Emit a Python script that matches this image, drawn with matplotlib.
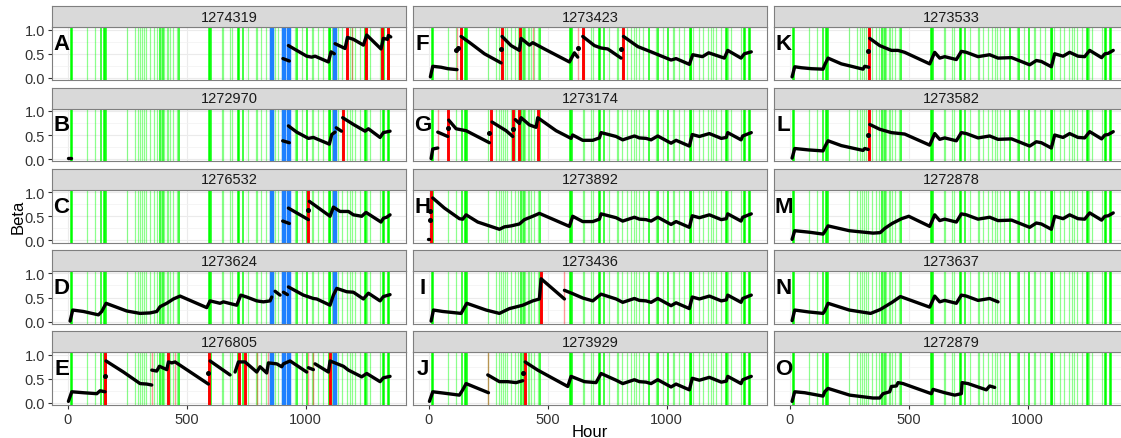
import matplotlib
matplotlib.use("Agg")
import matplotlib.pyplot as plt
import numpy as np

plt.rcParams['font.family'] = ['Liberation Sans', 'DejaVu Sans']

# identifiants des patients, par colonne (gauche, milieu, droite)
panel_ids = ["1274319", "1272970", "1276532", "1273624", "1276805",
             "1273423", "1273174", "1273892", "1273436", "1273929",
             "1273533", "1273582", "1272878", "1273637", "1272879"]
letters = list("ABCDEFGHIJKLMNO")

# evenements communs (heures)
green_thick = [12, 154, 594, 717, 1098, 1249, 1326, 1347]
green_mid = [138, 160, 388, 402, 469, 601, 738, 924, 962, 1004, 1102]
green_thin = [82, 115, 250, 283, 297, 304, 313, 321, 330, 346, 364, 374, 392, 405, 416, 423,
              430, 444, 458, 647, 654, 682, 689, 759, 790, 794, 811, 833, 850, 864, 870, 885,
              899, 955, 983, 1025, 1032, 1053, 1074, 1109, 1137, 1151, 1172, 1186, 1193, 1207,
              1228, 1256, 1270, 1312]
blue_left = [857, 908, 930, 1124]

red_thick = {"A": [1174, 1252, 1319, 1347], "B": [1155], "C": [1011],
             "E": [157, 423, 595, 720, 745, 1102],
             "F": [136, 307, 385, 647, 815], "G": [80, 262, 353, 381, 458],
             "H": [10], "I": [472], "J": [405], "K": [332], "L": [332]}
red_thin = {"A": [1194], "E": [356, 451, 797, 840, 1011, 1032],
            "F": [119, 437, 626], "G": [38], "I": [570], "J": [248]}

# fins communes des courbes
tail_mid_h = [647, 689, 717, 724, 787, 815, 864, 885, 913, 934, 962, 1018, 1039,
              1095, 1107, 1137, 1179, 1229, 1250, 1256, 1312, 1319, 1355]
tail_mid_b = [0.39, 0.39, 0.44, 0.55, 0.47, 0.40, 0.48, 0.44, 0.43, 0.40, 0.48, 0.33, 0.39,
              0.27, 0.51, 0.47, 0.53, 0.43, 0.45, 0.55, 0.40, 0.48, 0.55]
tail_right_h = [609, 630, 651, 700, 721, 742, 791, 840, 875, 932, 1008, 1036, 1057,
                1099, 1113, 1148, 1176, 1211, 1239, 1260, 1310, 1324, 1338, 1359]
tail_right_b = [0.53, 0.41, 0.44, 0.38, 0.55, 0.53, 0.44, 0.48, 0.41, 0.42, 0.27, 0.36, 0.34,
                0.23, 0.50, 0.45, 0.53, 0.45, 0.44, 0.57, 0.42, 0.50, 0.51, 0.57]

A_h = [904, 931, None, 927, 1004, 1025, 1039, 1095, 1106, 1120, None, 1123, 1165, 1175,
       1200, 1214, 1242, 1256, 1316, 1326, 1343, 1347, 1357]
A_b = [0.40, 0.35, None, 0.67, 0.45, 0.43, 0.45, 0.33, 0.54, 0.50, None, 0.71, 0.61, 0.84,
       0.80, 0.76, 0.68, 0.89, 0.60, 0.82, 0.80, 0.88, 0.85]
B_h = [0, 12, None, 903, 931, None, 927, 962, 1011, 1032, 1046, 1099, 1109, 1123, None,
       1128, 1150, None, 1155, 1200, 1249, 1263, 1312, 1326, 1354]
B_b = [0.02, 0.02, None, 0.38, 0.34, None, 0.69, 0.56, 0.43, 0.45, 0.42, 0.31, 0.51, 0.56, None,
       0.65, 0.58, None, 0.86, 0.72, 0.58, 0.63, 0.45, 0.55, 0.58]
C_h = [903, 931, None, 927, 1011, None, 1011, None, 1015, 1102, 1116, 1144, 1179, 1200,
       1235, 1253, 1316, 1326, 1340, 1354]
C_b = [0.40, 0.35, None, 0.67, 0.43, None, 0.62, None, 0.81, 0.50, 0.69, 0.60, 0.60, 0.53,
       0.50, 0.58, 0.38, 0.46, 0.48, 0.53]
D_h = [10, 21, 66, 129, 143, 161, 248, 304, 346, 374, 388, 416, 444, 472, 584, 598, 640, 654,
       710, 727, 752, 794, 822, 850, 857, None, 871, 892, None, 906, 923, None, 927, 990, 1032,
       1046, 1102, 1116, 1130, 1172, 1200, 1242, 1263, 1312, 1326, 1354]
D_b = [0.01, 0.24, 0.21, 0.14, 0.21, 0.38, 0.22, 0.17, 0.18, 0.21, 0.31, 0.38, 0.47, 0.53, 0.29,
       0.43, 0.38, 0.41, 0.34, 0.55, 0.51, 0.43, 0.41, 0.43, 0.51, None, 0.63, 0.55, None, 0.61,
       0.56, None, 0.72, 0.55, 0.48, 0.47, 0.34, 0.55, 0.69, 0.62, 0.61, 0.47, 0.59, 0.43, 0.52, 0.56]
E_h = [3, 17, 66, 122, 136, 157, None, 157, None, 161, 234, 304, 332, 353, None, 353, 374, 385,
       416, 423, 437, 451, 591, None, 591, None, 598, 682, None, 703, 717, 745, 794, 808, 836,
       843, 878, 899, 906, 934, 1004, None, 1011, 1032, None, 1039, 1095, 1102, 1158, 1179,
       1235, 1256, 1312, 1326, 1354]
E_b = [0.03, 0.23, 0.21, 0.19, 0.25, 0.23, None, 0.56, None, 0.87, 0.64, 0.40, 0.39, 0.37, None,
       0.68, 0.66, 0.76, 0.69, 0.85, 0.83, 0.85, 0.39, None, 0.61, None, 0.87, 0.58, None, 0.64,
       0.85, 0.85, 0.64, 0.75, 0.62, 0.83, 0.81, 0.75, 0.81, 0.87, 0.64, None, 0.73, 0.69, None,
       0.81, 0.64, 0.87, 0.76, 0.68, 0.54, 0.61, 0.44, 0.52, 0.55]
F_h = [7, 17, 52, 80, 119, None, 115, None, 125, None, 136, 178, 234, 304, None, 304, None, 308,
       346, 381, 388, 423, 437, 486, 591, 612, 626, None, 626, None, 647, 696, 724, 752, 808,
       None, 808, None, 818, 878, 934, 1018, 1039, 1095, 1109, 1150, 1176, 1242, 1256, 1312,
       1326, 1355]
F_b = [0.02, 0.24, 0.22, 0.19, 0.17, None, 0.57, None, 0.62, None, 0.86, 0.71, 0.50, 0.31, None,
       0.60, None, 0.86, 0.67, 0.57, 0.82, 0.68, 0.73, 0.60, 0.33, 0.52, 0.43, None, 0.63, None,
       0.86, 0.67, 0.62, 0.60, 0.41, None, 0.60, None, 0.86, 0.65, 0.54, 0.37, 0.40, 0.28, 0.48,
       0.44, 0.52, 0.41, 0.57, 0.41, 0.50, 0.54]
G_h = [10, 17, 38, None, 38, 80, None, 80, None, 84, 115, 136, 157, 255, None, 255, None, 266,
       325, 353, None, 353, None, 364, 381, 388, 423, 451, 458, 535, 598, 605]
G_b = [0.01, 0.21, 0.23, None, 0.56, 0.47, None, 0.65, None, 0.81, 0.63, 0.61, 0.59, 0.34, None,
       0.55, None, 0.77, 0.59, 0.47, None, 0.62, None, 0.82, 0.74, 0.86, 0.71, 0.66, 0.86, 0.59,
       0.43, 0.50]
H_h = [-5, 2, None, 7, None, 7, None, 17, 66, 129, 143, 157, 206, 297, 318, 346, 381, 402,
       437, 465, 591, 605]
H_b = [0.02, 0.02, None, 0.43, None, 0.60, None, 0.88, 0.67, 0.45, 0.44, 0.53, 0.38, 0.23,
       0.28, 0.30, 0.34, 0.43, 0.50, 0.56, 0.29, 0.50]
I_h = [10, 20, 59, 136, 160, 241, 297, 339, 395, 437, 465, 472, 570, None, 570, 605, 647, 689, 724]
I_b = [0.01, 0.24, 0.21, 0.17, 0.38, 0.24, 0.17, 0.27, 0.34, 0.43, 0.47, 0.89, 0.47, None,
       0.65, 0.58, 0.49, 0.43, 0.57]
J_h = [3, 17, 66, 129, 143, 157, 251, None, 248, 297, 332, 367, 395, None, 398, None, 405,
       458, 584, 598, 654, 703, 724]
J_b = [0.03, 0.23, 0.20, 0.16, 0.27, 0.40, 0.21, None, 0.58, 0.44, 0.44, 0.42, 0.46, None,
       0.62, None, 0.85, 0.68, 0.34, 0.55, 0.44, 0.42, 0.61]
K_h = [10, 21, 49, 91, 140, 147, 161, 217, 259, 308, 315, 332, None, 330, None, 336, 378, 427,
       455, 483, 588]
K_b = [0.02, 0.23, 0.21, 0.19, 0.18, 0.27, 0.41, 0.29, 0.24, 0.18, 0.24, 0.22, None, 0.55, None,
       0.82, 0.67, 0.57, 0.57, 0.53, 0.29]
L_h = [10, 21, 80, 140, 147, 161, 217, 308, 315, 330, None, 330, None, 336, 378, 427, 483, 588]
L_b = [0.02, 0.22, 0.19, 0.17, 0.25, 0.38, 0.28, 0.18, 0.22, 0.20, None, 0.50, None, 0.72,
       0.62, 0.55, 0.52, 0.29]
M_h = [10, 21, 80, 140, 147, 161, 250, 350, 380, 400, 430, 470, 500, 588]
M_b = [0.02, 0.20, 0.17, 0.13, 0.18, 0.30, 0.20, 0.15, 0.16, 0.25, 0.35, 0.45, 0.50, 0.29]
N_h = [10, 21, 80, 140, 147, 161, 250, 340, 380, 430, 465, 588]
N_b = [0.02, 0.24, 0.20, 0.17, 0.22, 0.38, 0.24, 0.17, 0.25, 0.40, 0.52, 0.30]
O_h = [10, 21, 63, 140, 147, 161, 252, 350, 378, 392, 420, 427, 448, 455, 476, 595, 602, 651,
       693, 721, 724, 749, 826, 840, 861]
O_b = [0.03, 0.23, 0.21, 0.14, 0.23, 0.30, 0.16, 0.10, 0.10, 0.19, 0.23, 0.34, 0.35, 0.42,
       0.40, 0.19, 0.28, 0.21, 0.16, 0.19, 0.42, 0.40, 0.27, 0.35, 0.32]


def avec_fin(h, b, th, tb, debut, fin=99999):
    # on colle la fin commune a partir de l'heure "debut"
    hh = list(h) + [t for t in th if debut <= t <= fin]
    bb = list(b) + [v for t, v in zip(th, tb) if debut <= t <= fin]
    return hh, bb


series = {
    "A": (A_h, A_b), "B": (B_h, B_b), "C": (C_h, C_b), "D": (D_h, D_b), "E": (E_h, E_b),
    "F": (F_h, F_b),
    "G": avec_fin(G_h, G_b, tail_mid_h, tail_mid_b, 640),
    "H": avec_fin(H_h, H_b, tail_mid_h, tail_mid_b, 640),
    "I": avec_fin(I_h, I_b, tail_mid_h, tail_mid_b, 780),
    "J": avec_fin(J_h, J_b, tail_mid_h, tail_mid_b, 780),
    "K": avec_fin(K_h, K_b, tail_right_h, tail_right_b, 600),
    "L": avec_fin(L_h, L_b, tail_right_h, tail_right_b, 600),
    "M": avec_fin(M_h, M_b, tail_right_h, tail_right_b, 600),
    "N": avec_fin(N_h, N_b, tail_right_h, tail_right_b, 600, 880),
    "O": (O_h, O_b),
}

W, H = 1121, 439
fig = plt.figure(figsize=(W / 100, H / 100), dpi=100)

col_left = [52, 413, 774]
pw, ph, sh = 354, 52.7, 21


def trace_serie(ax, h, b):
    seg_h, seg_b = [], []
    for x, y in list(zip(h, b)) + [(None, None)]:
        if x is None:
            if len(seg_h) == 1:
                ax.plot(seg_h, seg_b, 'o', color='black', ms=2.6, zorder=5)
            elif seg_h:
                ax.plot(seg_h, seg_b, color='black', lw=2.4, solid_joinstyle='round',
                        solid_capstyle='round', zorder=5)
            seg_h, seg_b = [], []
        else:
            seg_h.append(x)
            seg_b.append(y)


for k, (pid, let) in enumerate(zip(panel_ids, letters)):
    col, row = k // 5, k % 5
    top = 28.3 + 81.25 * row
    x0 = col_left[col]
    ax = fig.add_axes([x0 / W, 1 - (top + ph) / H, pw / W, ph / H])
    st = fig.add_axes([x0 / W, 1 - top / H, pw / W, sh / H])

    # grille facon theme_bw
    for g in [0, 500, 1000]:
        ax.axvline(g, color='#EBEBEB', lw=0.8, zorder=0)
    for g in [250, 750, 1250]:
        ax.axvline(g, color='#F2F2F2', lw=0.5, zorder=0)
    for g in [0, 0.5, 1.0]:
        ax.axhline(g, color='#EBEBEB', lw=0.8, zorder=0)
    for g in [0.25, 0.75]:
        ax.axhline(g, color='#F2F2F2', lw=0.5, zorder=0)

    for g in green_thin:
        ax.axvline(g, color='#00FF00', lw=0.9, alpha=0.45, zorder=1)
    for g in green_mid:
        ax.axvline(g, color='#00FF00', lw=1.1, alpha=0.95, zorder=1)
    for g in green_thick:
        ax.axvline(g, color='#00FF00', lw=1.8, zorder=1)
    for r in red_thin.get(let, []):
        ax.axvline(r, color='#FF0000', lw=1.0, alpha=0.4, zorder=2)
    for r in red_thick.get(let, []):
        ax.axvline(r, color='#FF0000', lw=2.1, zorder=2)
    if col == 0:
        for bl in blue_left:
            ax.axvline(bl, color='#1E80FF', lw=3.2, zorder=2)

    h, b = series[let]
    trace_serie(ax, h, b)

    ax.set_xlim(-66, 1421)
    ax.set_ylim(-0.045, 1.05)
    ax.set_facecolor('white')
    for s in ax.spines.values():
        s.set_color('#7F7F7F')
        s.set_linewidth(0.8)
    ax.set_yticks([0, 0.5, 1.0])
    ax.set_xticks([0, 500, 1000])
    ax.tick_params(length=3, color='#333333', labelsize=10.5, labelcolor='#333333', pad=2)
    if col == 0:
        ax.set_yticklabels(['0.0', '0.5', '1.0'])
    else:
        ax.set_yticklabels([])
        ax.tick_params(axis='y', length=0)
    if row == 4:
        ax.set_xticklabels(['0', '500', '1000'])
    else:
        ax.set_xticklabels([])
        ax.tick_params(axis='x', length=0)

    ax.text(0.027, 0.69, let, transform=ax.transAxes, fontsize=16, fontweight='bold',
            ha='center', va='center', zorder=6)

    st.set_facecolor('#D9D9D9')
    st.set_xticks([])
    st.set_yticks([])
    for s in st.spines.values():
        s.set_color('#7F7F7F')
        s.set_linewidth(0.8)
    st.text(0.5, 0.5, pid, transform=st.transAxes, ha='center', va='center',
            fontsize=10.5, color='#1A1A1A')

fig.text(18 / W, 1 - 217 / H, "Beta", rotation=90, ha='center', va='center', fontsize=12)
fig.text(590 / W, 1 - 433 / H, "Hour", ha='center', va='center', fontsize=12)

fig.savefig("out.png", dpi=100)
